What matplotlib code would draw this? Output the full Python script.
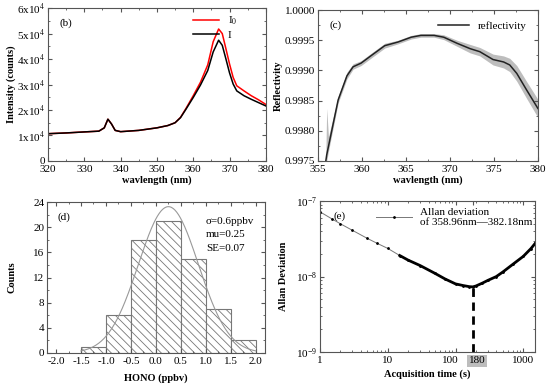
import numpy as np
import matplotlib
matplotlib.use("Agg")
import matplotlib.pyplot as plt
import matplotlib.transforms as mtransforms
from matplotlib.ticker import MultipleLocator, FixedLocator, LogLocator, NullFormatter, FuncFormatter

plt.rcParams['font.family'] = ['Liberation Serif', 'DejaVu Serif']
plt.rcParams['mathtext.fontset'] = 'stix'
plt.rcParams['hatch.linewidth'] = 0.6

# (b) intensity spectra
wl_b = [320, 325, 330, 334, 335.5, 336.5, 337.5, 338.5, 340, 345, 350, 353, 355, 356.5,
        358, 360, 362, 364, 365.5, 367, 368, 369, 370, 371, 372, 374, 376, 378, 380]
i_meas = [1.07e4, 1.10e4, 1.14e4, 1.17e4, 1.30e4, 1.64e4, 1.45e4, 1.20e4, 1.15e4, 1.20e4,
          1.30e4, 1.39e4, 1.50e4, 1.70e4, 2.03e4, 2.49e4, 2.98e4, 3.55e4, 4.28e4, 4.74e4,
          4.54e4, 4.01e4, 3.46e4, 3.02e4, 2.75e4, 2.56e4, 2.42e4, 2.29e4, 2.16e4]
i_zero = [1.07e4, 1.10e4, 1.14e4, 1.17e4, 1.30e4, 1.64e4, 1.45e4, 1.20e4, 1.15e4, 1.20e4,
          1.30e4, 1.39e4, 1.50e4, 1.71e4, 2.06e4, 2.56e4, 3.09e4, 3.77e4, 4.68e4, 5.18e4,
          5.00e4, 4.41e4, 3.81e4, 3.28e4, 2.95e4, 2.75e4, 2.56e4, 2.40e4, 2.22e4]

# (c) reflectivity with uncertainty band
wl_c = [355.9, 356.0, 356.2, 357.3, 358.3, 359.0, 359.9, 361.1, 362.6, 364.1, 365.6, 366.7,
        368.2, 369.3, 370.8, 372.3, 373.4, 374.9, 376.1, 376.8, 377.6, 378.7, 380.0]
refl = [0.99750, 0.99760, 0.99774, 0.99851, 0.99891, 0.99906, 0.99912, 0.99925, 0.99941,
        0.99947, 0.99955, 0.99958, 0.99958, 0.99955, 0.99945, 0.99936, 0.99931, 0.99918,
        0.99914, 0.99909, 0.99895, 0.99868, 0.99837]
refl_lo = [0.99745, 0.99750, 0.99766, 0.99846, 0.99886, 0.99902, 0.99908, 0.99921, 0.99937,
           0.99944, 0.99952, 0.99955, 0.99955, 0.99951, 0.99940, 0.99929, 0.99924, 0.99909,
           0.99904, 0.99898, 0.99882, 0.99854, 0.99822]
refl_hi = [0.99760, 0.99837, 0.99790, 0.99857, 0.99897, 0.99911, 0.99916, 0.99929, 0.99945,
           0.99950, 0.99958, 0.99961, 0.99961, 0.99959, 0.99950, 0.99943, 0.99938, 0.99927,
           0.99924, 0.99920, 0.99908, 0.99882, 0.99852]

# (d) HONO histogram
bin_edges = [-1.5, -1.0, -0.5, 0.0, 0.5, 1.0, 1.5, 2.0]
counts = [1, 6, 18, 21, 15, 7, 2]
mu, sigma = 0.25, 0.6

# (e) Allan deviation
tau = [1, 1.5, 2, 3, 5, 7, 10, 15, 20, 30, 50, 70, 100, 130, 160, 180, 200, 250, 300,
       400, 500, 700, 1000, 1300, 1500]
adev = [7.2e-8, 5.8e-8, 5.0e-8, 4.1e-8, 3.2e-8, 2.75e-8, 2.36e-8, 1.9e-8, 1.65e-8, 1.4e-8,
        1.1e-8, 9.3e-9, 8.0e-9, 7.6e-9, 7.35e-9, 7.3e-9, 7.5e-9, 8.2e-9, 8.9e-9,
        1.0e-8, 1.15e-8, 1.45e-8, 1.85e-8, 2.35e-8, 2.75e-8]
tau_opt = 180

spine_c = '#555555'
fs = 8


def style(ax):
    for s in ax.spines.values():
        s.set_color(spine_c)
        s.set_linewidth(0.8)
    ax.tick_params(which='both', direction='in', top=True, right=True,
                   labelsize=fs, color=spine_c, pad=2)
    ax.tick_params(axis='x', which='major', pad=3)
    ax.tick_params(which='major', length=3)
    ax.tick_params(which='minor', length=1.5)


fig = plt.figure(figsize=(5.5, 3.86), dpi=100)
lab = dict(fontsize=7.5, fontweight='bold')

# ---- (b)
ax = fig.add_axes([0.0873, 0.583, 0.396, 0.396])
ax.plot(wl_b, i_zero, color='red', lw=1.1, label='I$_0$')
ax.plot(wl_b, i_meas, color='black', lw=1.1, label='I')
ax.set_xlim(320, 380)
ax.set_ylim(0, 6e4)
ax.xaxis.set_major_locator(MultipleLocator(10))
ax.xaxis.set_minor_locator(MultipleLocator(5))
ax.yaxis.set_major_locator(MultipleLocator(1e4))
ax.yaxis.set_minor_locator(MultipleLocator(5e3))
ax.yaxis.set_major_formatter(FuncFormatter(
    lambda v, p: '0' if abs(v) < 1 else r'%dx10$^4$' % round(v / 1e4)))
ax.set_xlabel('wavlength (nm)', labelpad=1, **lab)
ax.set_ylabel('Intensity (counts)', labelpad=1, **lab)
ax.text(0.055, 0.93, '(b)', transform=ax.transAxes, fontsize=fs, va='top')
ax.legend(loc='upper right', frameon=False, fontsize=fs, handlelength=2.3,
          borderaxespad=0.2, labelspacing=0.25, bbox_to_anchor=(0.9, 1.0))
style(ax)

# ---- (c)
ax = fig.add_axes([0.578, 0.583, 0.4, 0.391])
ax.fill_between(wl_c, refl_lo, refl_hi, color='#bdbdbd', lw=0)
ax.plot(wl_c, refl, color='#222222', lw=1.1, label='reflectivity')
ax.set_xlim(355, 380)
ax.set_ylim(0.9975, 1.0)
ax.xaxis.set_major_locator(MultipleLocator(5))
ax.xaxis.set_minor_locator(MultipleLocator(2.5))
ax.yaxis.set_major_locator(MultipleLocator(0.0005))
ax.yaxis.set_minor_locator(MultipleLocator(0.00025))
ax.yaxis.set_major_formatter(plt.FormatStrFormatter('%.4f'))
ax.set_xlabel('wavlength (nm)', labelpad=1, **lab)
ax.set_ylabel('Reflectivity', labelpad=1, **lab)
ax.text(0.055, 0.93, '(c)', transform=ax.transAxes, fontsize=fs, va='top')
ax.legend(loc='upper right', frameon=False, fontsize=fs, handlelength=2.8,
          borderaxespad=0.6)
style(ax)

# ---- (d)
ax = fig.add_axes([0.0855, 0.0855, 0.396, 0.391])
widths = np.diff(bin_edges)
ax.bar(bin_edges[:-1], counts, width=widths, align='edge', facecolor='white',
       edgecolor='#777777', hatch='\\\\\\\\', lw=0.8)
xg = np.linspace(-1.5, 2.0, 200)
amp = sum(counts) * widths[0] / (sigma * np.sqrt(2 * np.pi))
ax.plot(xg, amp * np.exp(-(xg - mu) ** 2 / (2 * sigma ** 2)), color='#999999', lw=0.8)
ax.set_xlim(-2.18, 2.18)
ax.set_ylim(0, 24)
ax.xaxis.set_major_locator(MultipleLocator(0.5))
ax.xaxis.set_major_formatter(plt.FormatStrFormatter('%.1f'))
ax.yaxis.set_major_locator(MultipleLocator(4))
ax.yaxis.set_minor_locator(MultipleLocator(2))
ax.xaxis.set_minor_locator(MultipleLocator(0.25))
ax.set_xlabel('HONO (ppbv)', labelpad=5, **lab)
ax.set_ylabel('Counts', labelpad=12, **lab)
ax.text(0.05, 0.93, '(d)', transform=ax.transAxes, fontsize=fs, va='top')
ax.text(0.73, 0.9, 'σ=0.6ppbv\nmu=0.25\nSE=0.07', transform=ax.transAxes,
        fontsize=fs, va='top', linespacing=1.6)
style(ax)

# ---- (e)
ax = fig.add_axes([0.582, 0.088, 0.391, 0.391])
ax.set_xscale('log')
ax.set_yscale('log')
ax.plot(tau, adev, color='#777777', lw=0.7, marker='o', ms=1.0, mfc='black', mec='black',
        label='Allan deviation\nof 358.96nm—382.18nm')
dense = [i for i, t in enumerate(tau) if t >= 15]
ax.plot([tau[i] for i in dense], [adev[i] for i in dense], color='black', lw=2.0)
ax.plot([tau_opt, tau_opt], [1e-9, adev[tau.index(tau_opt)]], color='black', lw=2,
        ls=(0, (3, 2)))
ax.set_xlim(1, 1500)
ax.set_ylim(1e-9, 1e-7)
ax.xaxis.set_major_locator(FixedLocator([1, 10, 100, tau_opt, 1000]))
ax.set_xticklabels(['1', '10', '100', '180', '1000'])
ax.xaxis.set_minor_locator(LogLocator(subs=np.arange(2, 10)))
ax.xaxis.set_minor_formatter(NullFormatter())
ax.set_xlabel('Acquisition time (s)', labelpad=3, **lab)
ax.set_ylabel('Allan Deviation', labelpad=6, **lab)
ax.text(0.06, 0.93, '(e)', transform=ax.transAxes, fontsize=fs, va='top')
ax.legend(loc='upper right', frameon=False, fontsize=fs, handlelength=3.2,
          borderaxespad=0.2, labelspacing=0.2, bbox_to_anchor=(1.02, 1.0))
style(ax)
for t in ax.get_xticklabels():
    if t.get_text() == '180':
        t.set_bbox(dict(facecolor='#bdbdbd', edgecolor='none', pad=1))
        t.set_transform(t.get_transform() + mtransforms.ScaledTranslation(3 / 72, 0, fig.dpi_scale_trans))
    if t.get_text() == '100':
        t.set_transform(t.get_transform() + mtransforms.ScaledTranslation(-4 / 72, 0, fig.dpi_scale_trans))

fig.savefig('out.png', dpi=100)
